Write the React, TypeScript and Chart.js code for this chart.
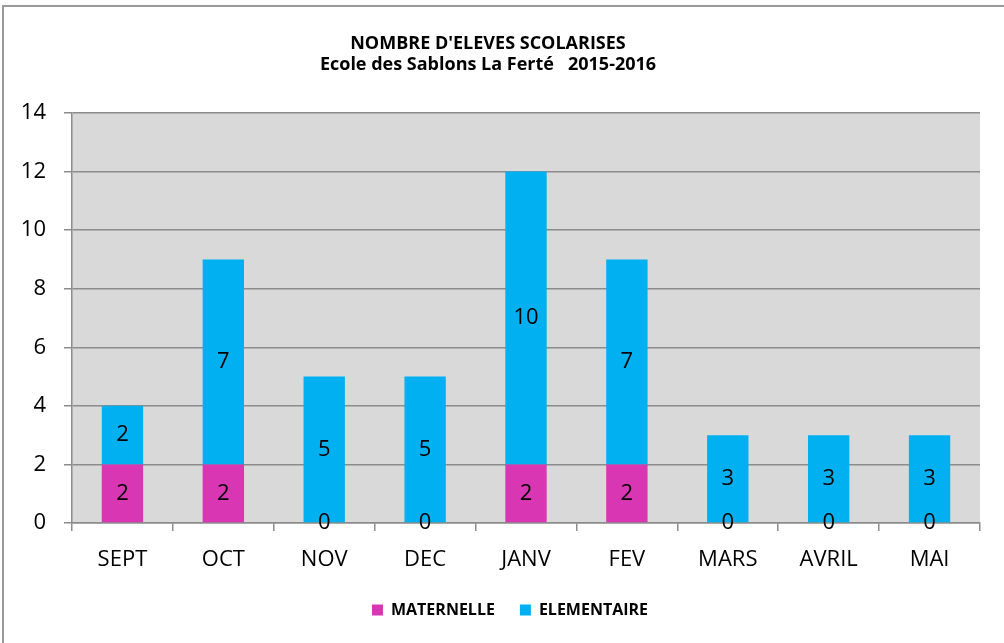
import React, { useEffect, useRef } from "react";
import { Chart, registerables } from "chart.js";

Chart.register(...registerables);

const months = ["SEPT", "OCT", "NOV", "DEC", "JANV", "FEV", "MARS", "AVRIL", "MAI"];
const maternelle = [2, 2, 0, 0, 2, 2, 0, 0, 0];
const elementaire = [2, 7, 5, 5, 10, 7, 3, 3, 3];
const titleLines = ["NOMBRE D'ELEVES SCOLARISES", "Ecole des Sablons La Ferté   2015-2016"];
const yMax = 14;
const yStep = 2;

const FONT = "'Open Sans', 'Liberation Sans', sans-serif";
const GRID = "#8c8c8c";

const bgPlugin = {
  id: "plotBg",
  beforeDraw(chart: any) {
    const { ctx, chartArea } = chart;
    ctx.save();
    ctx.fillStyle = "#D9D9D9";
    ctx.fillRect(chartArea.left, chartArea.top, chartArea.right - chartArea.left, chartArea.bottom - chartArea.top);
    ctx.restore();
  },
};

const legendShift = {
  id: "legendShift",
  afterLayout(chart: any) {
    if (chart.legend) {
      chart.legend.left += 20;
      chart.legend.right += 20;
    }
  },
};

const titlePlugin = {
  id: "twoLineTitle",
  afterDraw(chart: any) {
    const { ctx } = chart;
    ctx.save();
    ctx.fillStyle = "#000";
    ctx.font = `bold 18px ${FONT}`;
    ctx.textAlign = "center";
    ctx.textBaseline = "middle";
    ctx.fillText(titleLines[0], 488, 44);
    ctx.fillText(titleLines[1], 488, 65);
    ctx.restore();
  },
};

const labelPlugin = {
  id: "segLabels",
  afterDatasetsDraw(chart: any) {
    const { ctx } = chart;
    ctx.save();
    ctx.fillStyle = "#000";
    ctx.font = `22px ${FONT}`;
    ctx.textAlign = "center";
    ctx.textBaseline = "middle";
    chart.data.datasets.forEach((ds: any, i: number) => {
      const meta = chart.getDatasetMeta(i);
      meta.data.forEach((el: any, j: number) => {
        const c = el.getCenterPoint();
        ctx.fillText(String(ds.data[j]), c.x, c.y);
      });
    });
    ctx.restore();
  },
};

export default function App() {
  const ref = useRef<HTMLCanvasElement>(null);
  useEffect(() => {
    if (!ref.current) return;
    const chart = new Chart(ref.current, {
      type: "bar",
      data: {
        labels: months,
        datasets: [
          { label: "MATERNELLE", data: maternelle, backgroundColor: "#D936B4", barPercentage: 0.41, categoryPercentage: 1 },
          { label: "ELEMENTAIRE", data: elementaire, backgroundColor: "#00B0F0", barPercentage: 0.41, categoryPercentage: 1 },
        ],
      },
      options: {
        responsive: false,
        animation: false,
        layout: { padding: { top: 113, left: 0, right: 24, bottom: 15 } },
        plugins: {
          title: { display: false },
          tooltip: { enabled: false },
          legend: {
            display: true,
            position: "bottom",
            labels: {
              boxWidth: 11,
              boxHeight: 11,
              padding: 25,
              color: "#000",
              font: { family: FONT, size: 16, weight: "bold" },
            },
          },
        },
        scales: {
          x: {
            stacked: true,
            afterFit: (s: any) => { s.height = 54; },
            grid: { display: true, drawOnChartArea: false, drawTicks: true, tickLength: 8, color: GRID, lineWidth: 1.5, offset: true },
            border: { display: true, color: GRID, width: 1.5 },
            ticks: { color: "#000", font: { family: FONT, size: 22 }, padding: 16 },
          },
          y: {
            stacked: true,
            min: 0,
            max: yMax,
            afterFit: (s: any) => { s.width = 72; },
            grid: { display: true, drawTicks: true, tickLength: 8, color: GRID, lineWidth: 1.5 },
            border: { display: true, color: GRID, width: 1.5 },
            ticks: { stepSize: yStep, color: "#000", font: { family: FONT, size: 22 }, padding: 18 },
          },
        },
      },
      plugins: [bgPlugin, legendShift, titlePlugin, labelPlugin],
    });
    return () => chart.destroy();
  }, []);

  return (
    <div style={{ position: "fixed", left: 0, top: 0, width: 1004, height: 643, overflow: "hidden", background: "#fff" }}>
      <div style={{ position: "absolute", left: 2, top: 5, width: 1020, height: 660, border: "2px solid #9a9a9a", boxSizing: "border-box" }} />
      <canvas ref={ref} width={1004} height={643} style={{ position: "absolute", left: 0, top: 0, width: 1004, height: 643 }} />
    </div>
  );
}
